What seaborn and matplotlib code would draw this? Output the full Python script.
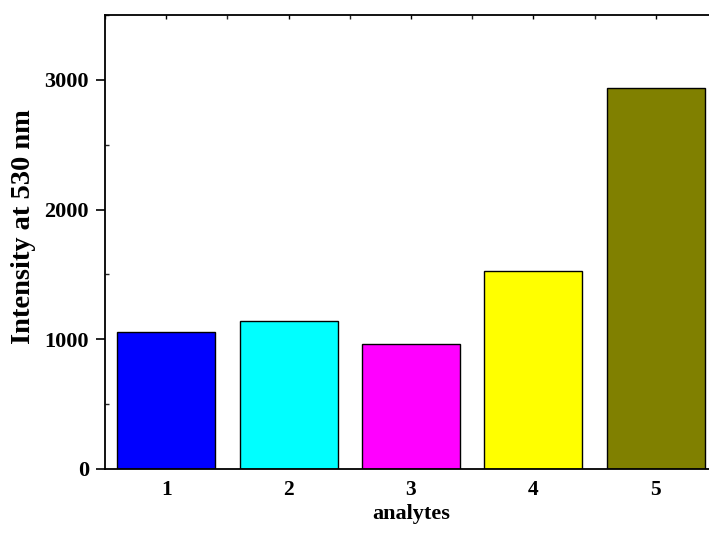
import matplotlib
matplotlib.use("Agg")
import matplotlib.pyplot as plt
import seaborn as sns
import pandas as pd
from matplotlib.ticker import MultipleLocator, FixedLocator

# Fluorescence intensity at 530 nm for each analyte
analytes = ["1", "2", "3", "4", "5"]
intensity = [1054, 1141, 964, 1528, 2935]
bar_colors = ["#0000FF", "#00FFFF", "#FF00FF", "#FFFF00", "#808000"]

sns.set_theme(style="white")
plt.rcParams["font.family"] = ["Liberation Serif", "DejaVu Serif"]
plt.rcParams["font.weight"] = "bold"
plt.rcParams["text.color"] = "black"
plt.rcParams["axes.labelcolor"] = "black"

df = pd.DataFrame({"analytes": analytes, "intensity": intensity})

fig = plt.figure(figsize=(7.09, 5.34), dpi=100)
ax = fig.add_axes([105 / 709, 1 - 469 / 534, (717 - 105) / 709, (469 - 15) / 534])

sns.barplot(data=df, x="analytes", y="intensity", hue="analytes",
            palette=bar_colors, legend=False, width=0.8,
            edgecolor="black", linewidth=1.0, saturation=1, ax=ax)

ax.set_xlim(-0.5, 4.5)
ax.set_ylim(0, 3500)

for s in ax.spines.values():
    s.set_visible(True)
    s.set_color("black")
    s.set_linewidth(1.3)

# y axis: outward major ticks, inward minor ticks
ax.yaxis.set_major_locator(MultipleLocator(1000))
ax.yaxis.set_minor_locator(MultipleLocator(500))
ax.tick_params(axis="y", which="major", direction="out", length=6.5, width=1.2,
               left=True, right=False, labelsize=16, pad=5, colors="black")
ax.tick_params(axis="y", which="minor", direction="in", length=3, width=1.0,
               left=True, right=False)

# x axis: labels below, small inward ticks along the top edge only
ax.xaxis.set_minor_locator(FixedLocator([-0.5, 0.5, 1.5, 2.5, 3.5, 4.5]))
ax.tick_params(axis="x", which="major", bottom=False, top=True, direction="in",
               length=3, width=1.0, labelsize=15.5, pad=8, colors="black")
ax.tick_params(axis="x", which="minor", bottom=False, top=True, direction="in",
               length=3, width=1.0)

for lab in ax.get_xticklabels() + ax.get_yticklabels():
    lab.set_fontweight("bold")

ax.set_xlabel("analytes", fontsize=16, fontweight="bold", labelpad=3, color="black")
ax.set_ylabel("Intensity at 530 nm", fontsize=20.5, fontweight="bold", color="black")
ax.yaxis.set_label_coords(-0.113, 0.533)

fig.savefig("out.png", dpi=100, facecolor="white")
